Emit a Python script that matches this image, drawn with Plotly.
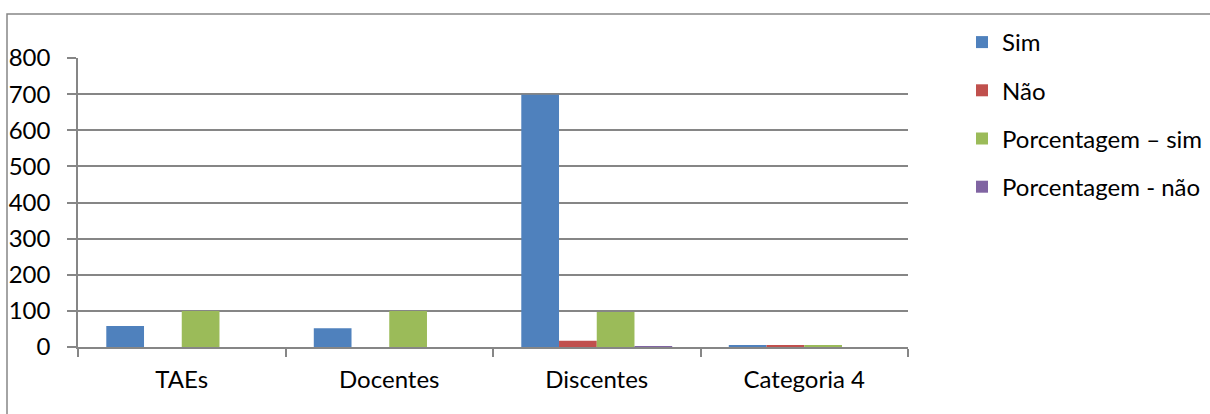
import plotly.graph_objects as go

categories = ["TAEs", "Docentes", "Discentes", "Categoria 4"]
series_names = ["Sim", "Não", "Porcentagem – sim", "Porcentagem - não"]
sim = [58, 52, 698, 3]
nao = [0, 0, 17, 3]
pct_sim = [100, 100, 97, 3]
pct_nao = [0, 0, 2, 0]
colors = ["#4F81BD", "#C0504D", "#9BBB59", "#8064A2"]
y_ticks = [0, 100, 200, 300, 400, 500, 600, 700, 800]

FONT = "Lato"
FS = 24
fig = go.Figure()
for i, (name, vals) in enumerate(zip(series_names, [sim, nao, pct_sim, pct_nao])):
    fig.add_trace(go.Bar(
        x=categories, y=vals, name=name,
        marker=dict(color=colors[i], line=dict(width=0)),
        legendgroup=f"g{i}",
    ))

L, R, T, B = 78, 908, 58, 347
W, H = 1210, 414
pw, ph = R - L, B - T

def px(x):
    return (x - L) / pw

def py(y):
    return (B - y) / ph

fig.update_layout(
    width=W, height=H,
    margin=dict(l=L, r=W - R, t=T, b=H - B, pad=0, autoexpand=False),
    paper_bgcolor="white", plot_bgcolor="white",
    barmode="group", bargap=0.2727, bargroupgap=0,
    font=dict(family=FONT, size=FS, color="#000000"),
    showlegend=True,
    legend=dict(xref="container", yref="container", x=962 / W, xanchor="left",
                y=1 - 20 / H, yanchor="top",
                font=dict(family=FONT, size=FS), tracegroupgap=14,
                traceorder="grouped", bgcolor="rgba(0,0,0,0)"),
    xaxis=dict(type="category", showline=True, linecolor="#868686", linewidth=1.5,
               ticks="outside", tickson="boundaries", ticklen=8, tickcolor="#868686",
               tickwidth=1.5, showgrid=False, tickfont=dict(size=FS),
               ticklabelstandoff=10),
    yaxis=dict(range=[0, 800], tickvals=y_ticks, showline=True, linecolor="#868686",
               linewidth=1.5, ticks="outside", ticklen=9, tickcolor="#868686",
               tickwidth=1.5, showgrid=True, gridcolor="#868686", gridwidth=1.5,
               zeroline=False, tickfont=dict(size=FS), ticklabelstandoff=12),
    shapes=[dict(type="rect", xref="paper", yref="paper",
                 x0=px(7), x1=px(1230), y0=py(440), y1=py(14),
                 line=dict(color="#868686", width=1.5), layer="below")],
)
fig.write_html("out.html")
